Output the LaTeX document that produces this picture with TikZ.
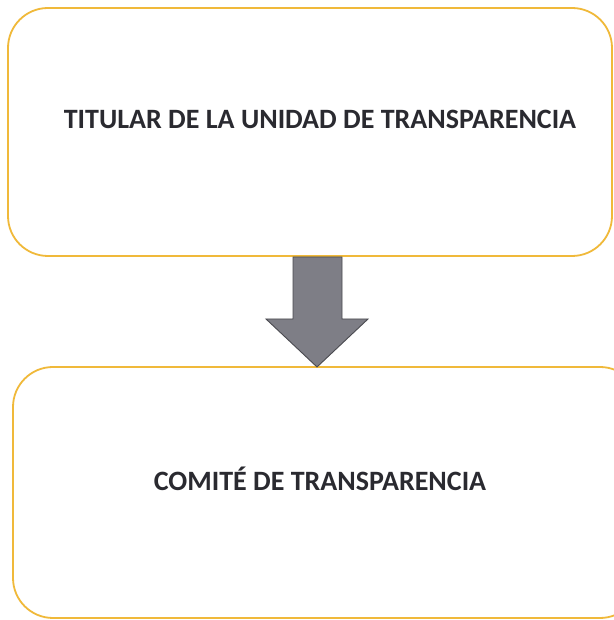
\documentclass[tikz,border=0pt]{standalone}
\usepackage{fontspec}
\setmainfont{Carlito}
\usetikzlibrary{calc}
\definecolor{boxline}{HTML}{F0B93A}
\definecolor{arrowfill}{HTML}{7E7E86}
\definecolor{arrowline}{HTML}{4A4A50}
\definecolor{txt}{HTML}{2A2A30}
\tikzset{
  box/.style={draw=boxline, line width=1.8pt, rounded corners=40pt, fill=white},
  label/.style={font=\bfseries\fontsize{28}{32}\selectfont, text=txt, anchor=base},
  blockarrow/.style={fill=arrowfill, draw=arrowline, line width=0.9pt, line join=miter}
}
\begin{document}
\begin{tikzpicture}[x=1pt,y=1pt]
\useasboundingbox (0,0) rectangle (613,620);
\fill[white] (0,0) rectangle (613,620);
\draw[box] (8,364) rectangle (612,612);
\draw[box] (13,2) rectangle (640,253);
\node[label] (top) at (320,491) {TITULAR DE LA UNIDAD DE TRANSPARENCIA};
\node[label] (bottom) at (320,129) {COMITÉ DE TRANSPARENCIA};
\coordinate (s) at (317,363);
\coordinate (t) at (317,253);
\draw[blockarrow] ($(s)+(-24,0)$) -- ($(s)+(25,0)$) -- ($(s)+(25,-62)$) -- ($(s)+(51,-62)$) -- (t) -- ($(s)+(-51,-62)$) -- ($(s)+(-24,-62)$) -- cycle;
\end{tikzpicture}
\end{document}
